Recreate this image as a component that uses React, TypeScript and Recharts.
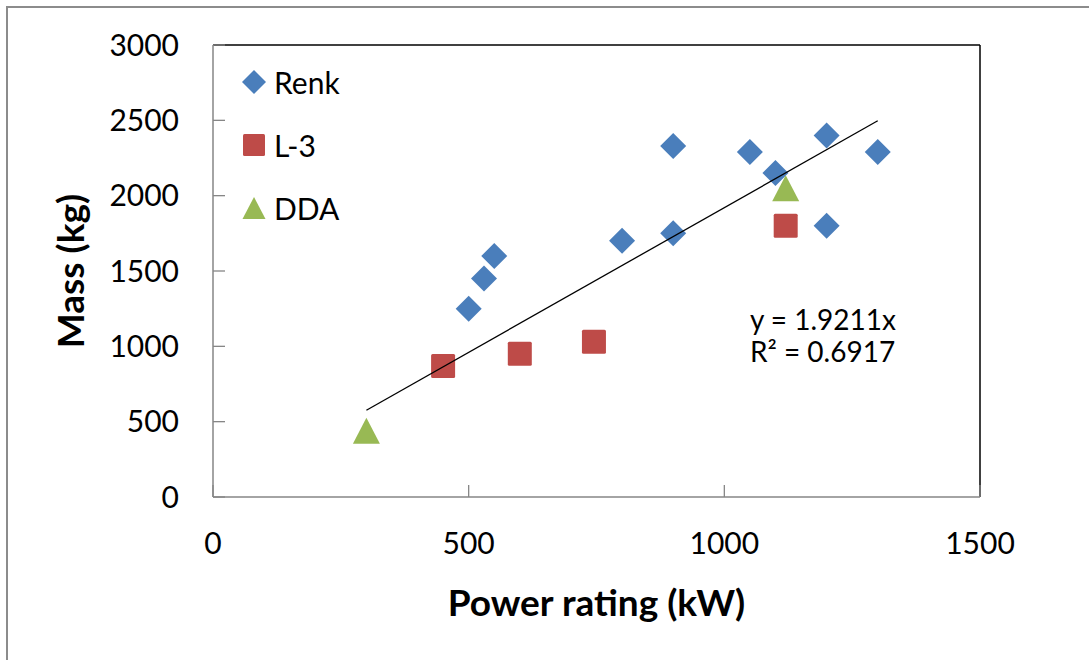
import { ScatterChart, Scatter, XAxis, YAxis, Legend, ReferenceLine, ReferenceDot } from 'recharts';

const seriesNames = ['Renk', 'L-3', 'DDA'];
const renkPower = [500, 530, 550, 800, 900, 900, 1050, 1100, 1200, 1200, 1300];
const renkMass = [1250, 1450, 1600, 1700, 2330, 1750, 2290, 2150, 2400, 1800, 2290];
const l3Power = [450, 600, 745, 1120];
const l3Mass = [870, 950, 1030, 1800];
const ddaPower = [300, 1120];
const ddaMass = [440, 2050];
const trendPower = [300, 1300];
const trendMass = [576, 2497];
const xTicks = [0, 500, 1000, 1500];
const yTicks = [0, 500, 1000, 1500, 2000, 2500, 3000];

const toPoints = (xs: number[], ys: number[]) => xs.map((x, i) => ({ x, y: ys[i] }));

const FONT = 'Lato, "Open Sans", sans-serif';
const BLUE = '#4a7ebb';
const RED = '#be4b48';
const GREEN = '#98b954';
const AXIS = '#868686';

const Diamond = ({ cx, cy, r = 13, fill }: any) => (
  <polygon points={`${cx},${cy - r} ${cx + r},${cy} ${cx},${cy + r} ${cx - r},${cy}`} fill={fill} />
);
const Square = ({ cx, cy, r = 12, fill }: any) => (
  <rect x={cx - r} y={cy - r} width={r * 2} height={r * 2} rx={1.5} fill={fill} />
);
const Triangle = ({ cx, cy, r = 13, fill }: any) => (
  <polygon points={`${cx},${cy - r} ${cx + r + 0.5},${cy + r} ${cx - r - 0.5},${cy + r}`} fill={fill} />
);

const icons: Record<string, any> = { Renk: Diamond, 'L-3': Square, DDA: Triangle };

const YTick = ({ x, y, payload }: any) => (
  <g>
    <line x1={x + 34} x2={x + 46} y1={y} y2={y} stroke={AXIS} strokeWidth={1.3} />
    <text x={x} y={y} dy="0.35em" textAnchor="end" fontSize={30} fontFamily={FONT} fill="#000">
      {payload.value}
    </text>
  </g>
);

const XTick = ({ x, y, payload }: any) => (
  <g>
    <line x1={x} x2={x} y1={y - 46} y2={y - 58} stroke={AXIS} strokeWidth={1.3} />
    <text x={x} y={y} dy="0.35em" textAnchor="middle" fontSize={30} fontFamily={FONT} fill="#000">
      {payload.value}
    </text>
  </g>
);

const YTitle = ({ viewBox }: any) => {
  const cx = 71;
  const cy = viewBox.y + viewBox.height / 2;
  return (
    <text x={cx} y={cy} transform={`rotate(-90 ${cx} ${cy})`} textAnchor="middle" dy="0.35em"
      fontSize={37} fontWeight={700} fontFamily={FONT} fill="#000">
      Mass (kg)
    </text>
  );
};

const XTitle = ({ viewBox }: any) => {
  const cx = viewBox.x + viewBox.width / 2;
  const cy = 603;
  return (
    <text x={cx} y={cy} textAnchor="middle" dy="0.35em" fontSize={37} fontWeight={700} fontFamily={FONT} fill="#000">
      Power rating (kW)
    </text>
  );
};

const TrendText = ({ viewBox }: any) => {
  const x = viewBox.x;
  const y = viewBox.y;
  return (
    <text x={x} y={y} fontSize={28} fontFamily={FONT} fill="#000">
      <tspan x={x} dy="0.35em">y = 1.9211x</tspan>
      <tspan x={x} dy="32">R² = 0.6917</tspan>
    </text>
  );
};

const LegendBox = ({ payload }: any) => {
  const items = seriesNames
    .map((name) => (payload || []).find((p: any) => p.value === name))
    .filter(Boolean);
  return (
    <div style={{ fontFamily: FONT, fontSize: 30 }}>
      {items.map((p: any) => {
        const Icon = icons[p.value];
        return (
          <div key={p.value} style={{ display: 'flex', alignItems: 'center', height: 63 }}>
            <svg width={28} height={28} style={{ marginRight: 6 }}>
              <Icon cx={14} cy={14} r={p.value === 'Renk' ? 12 : 11} fill={p.color} />
            </svg>
            <span>{p.value}</span>
          </div>
        );
      })}
    </div>
  );
};

export default function App() {
  return (
    <div style={{ position: 'absolute', left: 0, top: 0, width: 1089, height: 660, overflow: 'hidden', background: '#fff' }}>
      <div style={{ position: 'absolute', left: 6, top: 6, width: 1200, height: 800, border: '2px solid #8c8c8c' }} />
      <div style={{ position: 'absolute', left: 0, top: 0 }}>
        <ScatterChart width={1089} height={660} margin={{ top: 45, right: 109, bottom: 0, left: 0 }}>
          <XAxis type="number" dataKey="x" domain={[0, 1500]} ticks={xTicks} interval={0}
            axisLine={{ stroke: AXIS, strokeWidth: 1.5 }} tickLine={false} tickSize={0} tickMargin={46}
            tick={<XTick />} height={163} label={{ content: <XTitle /> } as any} />
          <YAxis type="number" dataKey="y" domain={[0, 3000]} ticks={yTicks} interval={0}
            axisLine={{ stroke: AXIS, strokeWidth: 1.5 }} tickLine={false} tickSize={0} tickMargin={34}
            tick={<YTick />} width={213} label={{ content: <YTitle /> } as any} />
          <ReferenceLine y={3000} stroke="#000" strokeWidth={1.5} />
          <ReferenceLine x={1500} stroke="#000" strokeWidth={1.5} />
          <Legend layout="horizontal" verticalAlign="middle" align="center" content={<LegendBox />}
            wrapperStyle={{ left: 240, top: 50, width: 200 }} />
          <Scatter name="Renk" data={toPoints(renkPower, renkMass)} fill={BLUE} shape={<Diamond />} isAnimationActive={false} />
          <Scatter name="L-3" data={toPoints(l3Power, l3Mass)} fill={RED} shape={<Square />} isAnimationActive={false} />
          <Scatter name="DDA" data={toPoints(ddaPower, ddaMass)} fill={GREEN} shape={<Triangle />} isAnimationActive={false} />
          <Scatter name="trend" legendType="none" data={toPoints(trendPower, trendMass)} fill="none"
            line={{ stroke: '#000', strokeWidth: 1.3 }} shape={() => <g />} isAnimationActive={false} />
          <ReferenceDot x={1050} y={1175} r={0} label={{ content: <TrendText /> } as any} />
        </ScatterChart>
      </div>
    </div>
  );
}
